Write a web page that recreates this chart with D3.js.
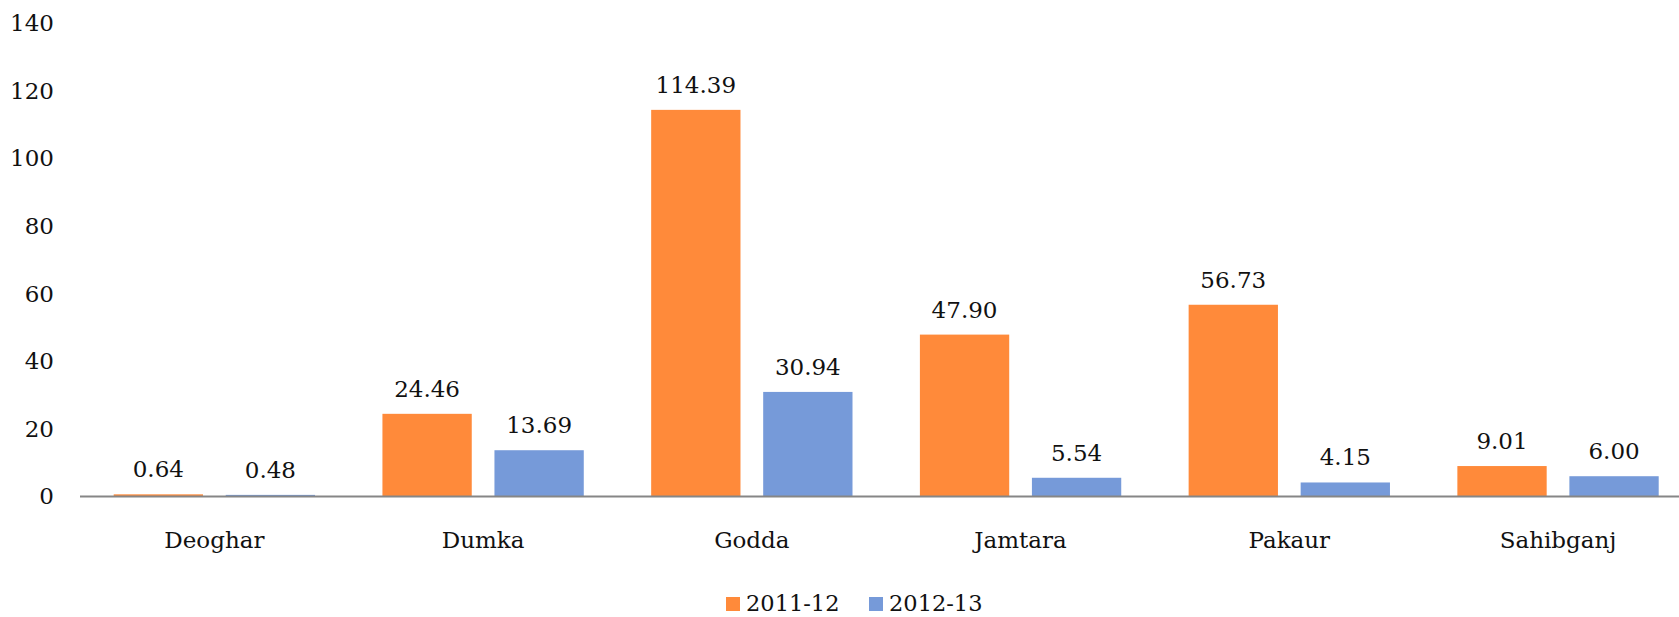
<!DOCTYPE html>
<html>
<head>
<meta charset="utf-8">
<script src="https://cdn.jsdelivr.net/npm/d3@7"></script>
<style>
  html, body { margin: 0; padding: 0; background: #fff; }
  svg { display: block; }
  text { font-family: "DejaVu Serif", serif; fill: #111; }
</style>
</head>
<body>
<svg id="chart" width="1679" height="617"></svg>
<script>
const categories = ["Deoghar", "Dumka", "Godda", "Jamtara", "Pakaur", "Sahibganj"];
const seriesNames = ["2011-12", "2012-13"];
const values2011 = [0.64, 24.46, 114.39, 47.90, 56.73, 9.01];
const values2012 = [0.48, 13.69, 30.94, 5.54, 4.15, 6.00];
const yTicks = [0, 20, 40, 60, 80, 100, 120, 140];
const colors = ["#FF8A3A", "#769AD9"];

const seriesValues = [values2011, values2012];
const svg = d3.select("#chart");

const y = d3.scaleLinear().domain([0, 140]).range([496.5, 23.3]);
const x0 = d3.scaleBand().domain(categories).range([80, 1692.4]).padding(0);
const outer = 33.7;
const x1 = d3.scaleBand().domain(seriesNames)
  .range([outer, x0.bandwidth() - outer])
  .paddingInner(0.2027).paddingOuter(0);

// y tick labels
const yAxis = d3.axisLeft(y).tickValues(yTicks).tickSize(0).tickPadding(0).tickFormat(d3.format("d"));
const gy = svg.append("g").attr("transform", "translate(54,0)").call(yAxis);
gy.select(".domain").remove();
gy.selectAll("text").style("font-family", "'DejaVu Serif', serif").style("font-size", "23px").attr("fill", "#111");

// bars
const groups = svg.append("g").selectAll("g").data(categories).join("g")
  .attr("transform", d => `translate(${x0(d)},0)`);

groups.each(function(cat, i) {
  const g = d3.select(this);
  seriesNames.forEach((s, si) => {
    const v = seriesValues[si][i];
    g.append("rect")
      .attr("x", x1(s))
      .attr("y", y(v))
      .attr("width", x1.bandwidth())
      .attr("height", y(0) - y(v))
      .attr("fill", colors[si]);
    g.append("text")
      .attr("x", x1(s) + x1.bandwidth() / 2)
      .attr("y", y(v) - 17)
      .attr("text-anchor", "middle")
      .style("font-size", "23px")
      .text(d3.format(".2f")(v));
  });
});

// x axis line & labels
const xAxis = d3.axisBottom(x0).tickSize(0).tickPadding(0);
const gx = svg.append("g").attr("transform", `translate(0,${y(0)})`).call(xAxis);
gx.select(".domain").attr("stroke", "#868686").attr("stroke-width", 2)
  .attr("d", `M80,0H1692`);
gx.selectAll("text").attr("dy", null).attr("y", 51)
  .style("font-family", "'DejaVu Serif', serif").style("font-size", "23px").attr("fill", "#111");

// legend
const legendX = [726, 869];
const lg = svg.append("g").selectAll("g").data(seriesNames).join("g")
  .attr("transform", (d, i) => `translate(${legendX[i]},597)`);
lg.append("rect").attr("width", 14).attr("height", 14).attr("fill", (d, i) => colors[i]);
lg.append("text").attr("x", 20).attr("y", 14).style("font-size", "22.5px").text(d => d);
</script>
</body>
</html>
